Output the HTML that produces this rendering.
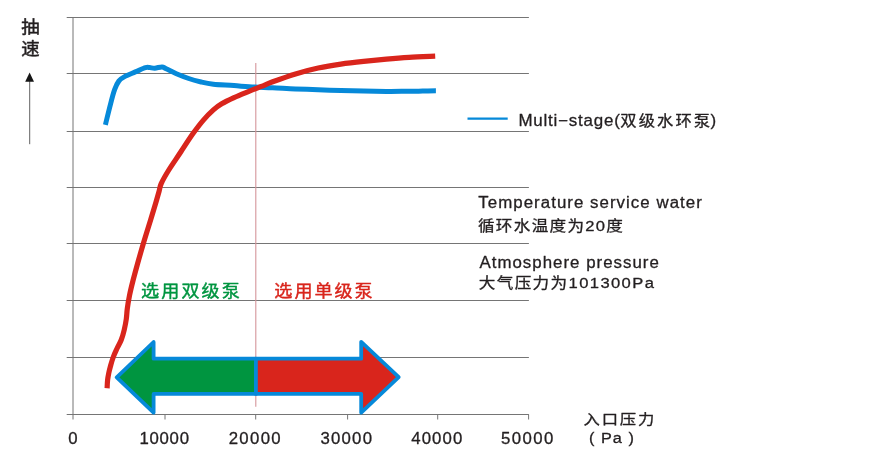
<!DOCTYPE html>
<html lang="zh"><head><meta charset="utf-8"><title>chart</title>
<style>
html,body{margin:0;padding:0;background:#fff;}
body{width:880px;height:462px;overflow:hidden;position:relative;}
svg{position:absolute;left:0;top:0;display:block;}
text{font-family:"Liberation Sans","Noto Sans CJK SC",sans-serif;stroke-linejoin:round;}
</style></head><body>
<svg width="880" height="462" viewBox="0 0 880 462">
<rect width="880" height="462" fill="#fff"/>
<g stroke="#757575" stroke-width="1" fill="none">
<line x1="66.7" y1="17.5" x2="528.9" y2="17.5"/>
<line x1="66.7" y1="73.5" x2="528.9" y2="73.5"/>
<line x1="66.7" y1="131.5" x2="528.9" y2="131.5"/>
<line x1="66.7" y1="187.5" x2="528.9" y2="187.5"/>
<line x1="66.7" y1="243.5" x2="528.9" y2="243.5"/>
<line x1="66.7" y1="300.5" x2="528.9" y2="300.5"/>
<line x1="66.7" y1="357.5" x2="528.9" y2="357.5"/>
<line x1="66.7" y1="414.5" x2="528.9" y2="414.5"/>
<line x1="73" y1="17" x2="73" y2="419.5"/>
<line x1="165.0" y1="414.5" x2="165.0" y2="419.5"/>
<line x1="255.7" y1="414.5" x2="255.7" y2="419.5"/>
<line x1="347.6" y1="414.5" x2="347.6" y2="419.5"/>
<line x1="437.7" y1="414.5" x2="437.7" y2="419.5"/>
<line x1="528.6" y1="414.5" x2="528.6" y2="419.5"/>
</g>
<line x1="255.8" y1="63" x2="255.8" y2="406.8" stroke="#d4949a" stroke-width="1.1"/>
<line x1="29.7" y1="80" x2="29.7" y2="144.2" stroke="#3a3a3a" stroke-width="0.8"/>
<polygon points="29.6,72.6 25.2,81.7 34,81.7" fill="#161616"/>
<path d="M105.4 124.8 C106.3 121.3 109.0 109.7 110.6 103.8 C112.1 97.9 113.3 93.2 114.7 89.4 C116.1 85.6 117.1 83.3 118.8 81.1 C120.5 78.9 122.2 77.9 125.0 76.4 C127.8 74.9 131.9 73.4 135.3 71.9 C138.7 70.5 143.1 68.4 145.5 67.7 C147.9 67.0 148.1 67.5 149.7 67.6 C151.2 67.7 152.8 68.3 154.8 68.2 C156.9 68.1 160.1 66.8 162.0 66.9 C163.9 67.0 163.7 67.7 166.1 68.8 C168.5 69.9 172.6 72.1 176.4 73.7 C180.2 75.3 184.6 77.1 188.7 78.5 C192.8 79.9 197.0 81.0 201.1 82.0 C205.2 83.0 207.9 83.7 213.4 84.3 C218.9 84.9 227.1 85.1 234.0 85.6 C240.9 86.1 248.2 86.8 254.6 87.1 C261.1 87.4 265.9 87.4 272.7 87.7 C279.5 88.0 287.9 88.6 295.5 88.9 C303.1 89.2 310.6 89.5 318.2 89.8 C325.8 90.1 333.3 90.3 340.9 90.5 C348.5 90.7 356.0 90.8 363.6 90.9 C371.2 91.1 378.8 91.3 386.4 91.4 C394.0 91.5 403.1 91.3 409.1 91.3 C415.2 91.2 418.2 91.2 422.7 91.1 C427.2 91.0 433.7 90.8 435.9 90.8" fill="none" stroke="#0689d9" stroke-width="5.0" stroke-linejoin="round"/>
<path d="M107.1 388.3 C107.2 386.9 107.3 382.6 107.6 380.0 C107.9 377.4 108.4 375.0 108.9 372.5 C109.4 370.0 110.1 367.6 110.8 365.0 C111.5 362.4 112.3 359.8 113.3 357.0 C114.3 354.2 115.7 351.3 117.0 348.5 C118.3 345.7 120.0 343.1 121.2 340.0 C122.4 336.9 123.4 333.5 124.2 330.0 C125.0 326.5 125.8 322.6 126.3 319.0 C126.8 315.4 126.8 312.5 127.3 308.6 C127.8 304.7 128.6 300.2 129.5 295.6 C130.4 291.0 131.6 286.1 132.9 281.0 C134.2 275.9 135.5 271.2 137.2 265.0 C138.9 258.8 141.0 251.5 143.2 244.0 C145.4 236.5 148.6 226.5 150.6 220.0 C152.6 213.5 153.8 209.6 155.2 204.8 C156.6 200.0 158.1 194.7 159.1 191.2 C160.1 187.7 159.6 187.1 161.2 183.6 C162.8 180.1 165.5 175.3 168.8 170.0 C172.1 164.7 176.9 157.9 180.9 151.8 C184.9 145.7 189.2 138.9 193.0 133.6 C196.8 128.3 200.0 124.0 203.4 120.1 C206.8 116.1 210.4 112.6 213.4 109.9 C216.4 107.2 218.3 105.8 221.7 103.8 C225.1 101.8 229.3 99.8 234.0 97.6 C238.7 95.4 245.4 92.8 250.0 90.9 C254.6 89.0 257.6 87.9 261.4 86.4 C265.2 84.9 267.0 83.9 272.7 81.8 C278.4 79.7 287.9 76.2 295.5 73.9 C303.1 71.6 310.6 69.6 318.2 68.0 C325.8 66.4 333.3 65.2 340.9 64.1 C348.5 63.0 356.0 62.2 363.6 61.4 C371.2 60.6 378.8 59.8 386.4 59.1 C394.0 58.4 401.0 57.8 409.1 57.3 C417.2 56.8 430.9 56.3 435.2 56.1" fill="none" stroke="#d9251c" stroke-width="5.2" stroke-linejoin="round"/>
<path d="M255.9 358.7 L153.6 358.7 L153.6 342 L116.7 377.3 L153.6 412.6 L153.6 393.9 L255.9 393.9 Z" fill="#009540" stroke="#0689d9" stroke-width="3.8" stroke-linejoin="round"/>
<path d="M255.9 358.7 L361.2 358.7 L361.2 341.8 L398.7 377.2 L361.2 412.6 L361.2 393.9 L255.9 393.9 Z" fill="#d9251c" stroke="#0689d9" stroke-width="3.8" stroke-linejoin="round"/>
<line x1="467.5" y1="118.6" x2="507.7" y2="118.6" stroke="#0689d9" stroke-width="2.2"/>
<text transform="translate(21.17 33.10) scale(1.060 1)" font-size="17.4" letter-spacing="0.00" style="fill:#231f20;stroke:#231f20;stroke-width:0.5">抽</text>
<text transform="translate(21.26 55.30) scale(1.060 1)" font-size="17.4" letter-spacing="0.00" style="fill:#231f20;stroke:#231f20;stroke-width:0.5">速</text>
<text transform="translate(518.42 125.80) scale(1.060 1)" font-size="16" letter-spacing="0.74" style="fill:#231f20;stroke:#231f20;stroke-width:0.3">Multi−stage(</text>
<text transform="translate(620.37 126.00) scale(1.120 1)" font-size="14.6" letter-spacing="1.78" style="fill:#231f20;stroke:#231f20;stroke-width:0.3">双级水环泵</text>
<text transform="translate(710.58 125.80) scale(1.060 1)" font-size="16" letter-spacing="0.00" style="fill:#231f20;stroke:#231f20;stroke-width:0.3">)</text>
<text transform="translate(478.36 208.30) scale(1.080 1)" font-size="15.6" letter-spacing="0.97" style="fill:#231f20;stroke:#231f20;stroke-width:0.3">Temperature service water</text>
<text transform="translate(477.97 231.20) scale(1.130 1)" font-size="14.7" letter-spacing="1.14" style="fill:#231f20;stroke:#231f20;stroke-width:0.3">循环水温度为20度</text>
<text transform="translate(479.46 267.50) scale(1.080 1)" font-size="15.6" letter-spacing="0.95" style="fill:#231f20;stroke:#231f20;stroke-width:0.3">Atmosphere pressure</text>
<text transform="translate(478.68 288.20) scale(1.130 1)" font-size="14.7" letter-spacing="1.22" style="fill:#231f20;stroke:#231f20;stroke-width:0.3">大气压力为101300Pa</text>
<text transform="translate(68.31 443.60) scale(1.070 1)" font-size="15.7" letter-spacing="0.00" style="fill:#231f20;stroke:#231f20;stroke-width:0.3">0</text>
<text transform="translate(139.39 443.60) scale(1.070 1)" font-size="15.7" letter-spacing="0.69" style="fill:#231f20;stroke:#231f20;stroke-width:0.3">10000</text>
<text transform="translate(228.63 443.60) scale(1.070 1)" font-size="15.7" letter-spacing="1.25" style="fill:#231f20;stroke:#231f20;stroke-width:0.3">20000</text>
<text transform="translate(320.51 443.60) scale(1.070 1)" font-size="15.7" letter-spacing="1.12" style="fill:#231f20;stroke:#231f20;stroke-width:0.3">30000</text>
<text transform="translate(411.16 443.60) scale(1.070 1)" font-size="15.7" letter-spacing="1.06" style="fill:#231f20;stroke:#231f20;stroke-width:0.3">40000</text>
<text transform="translate(501.09 443.60) scale(1.070 1)" font-size="15.7" letter-spacing="1.28" style="fill:#231f20;stroke:#231f20;stroke-width:0.3">50000</text>
<text transform="translate(583.54 423.60) scale(1.150 1)" font-size="14.2" letter-spacing="1.60" style="fill:#231f20;stroke:#231f20;stroke-width:0.3">入口压力</text>
<text transform="translate(589.00 442.90) scale(1.050 1)" font-size="15.5" letter-spacing="0.97" style="fill:#231f20;stroke:#231f20;stroke-width:0.3">( Pa )</text>
<text transform="translate(141.03 296.50) scale(1.090 1)" font-size="16.6" letter-spacing="1.93" style="fill:#009540;stroke:#009540;stroke-width:0.4">选用双级泵</text>
<text transform="translate(274.32 296.50) scale(1.090 1)" font-size="16.6" letter-spacing="1.81" style="fill:#d9251c;stroke:#d9251c;stroke-width:0.4">选用单级泵</text>
</svg></body></html>
